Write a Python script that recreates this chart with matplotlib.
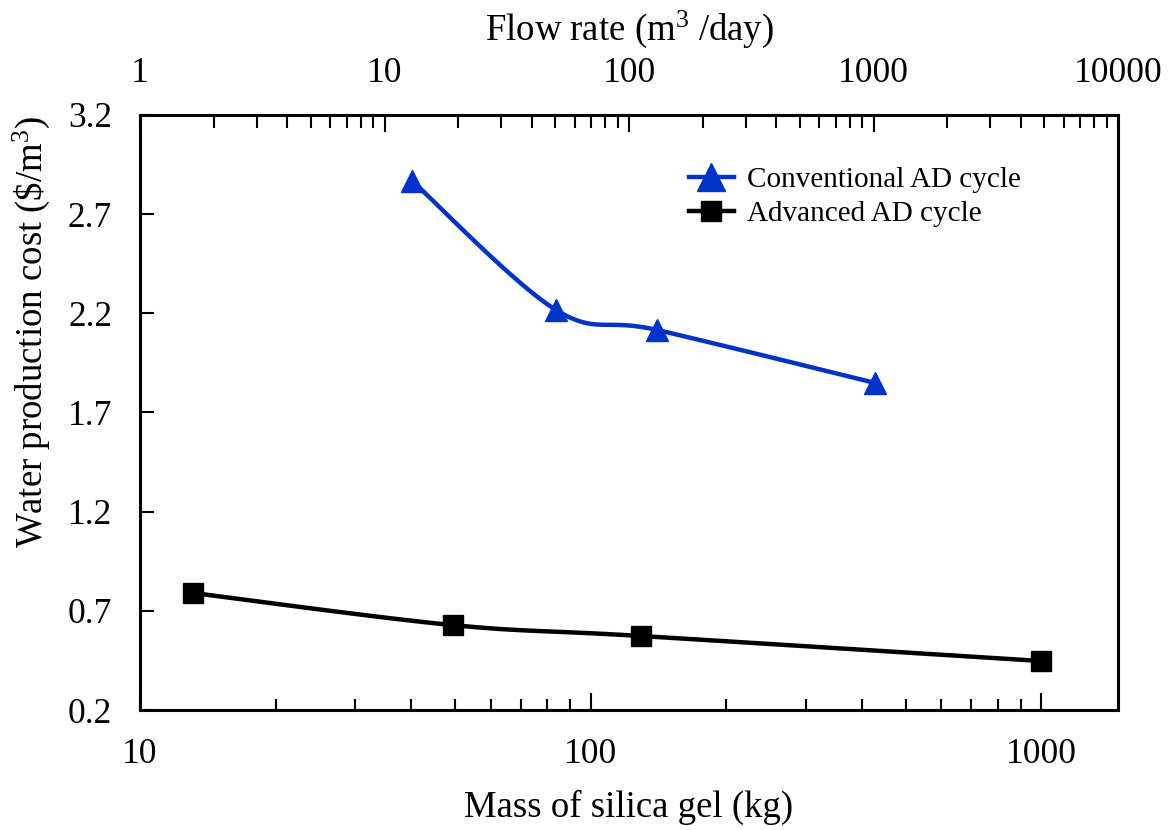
import numpy as np
import matplotlib
matplotlib.use("Agg")
import matplotlib.pyplot as plt

plt.rcParams['font.family'] = ['Liberation Serif', 'DejaVu Serif']
plt.rcParams['mathtext.fontset'] = 'custom'
plt.rcParams['mathtext.rm'] = 'Liberation Serif'
plt.rcParams['mathtext.it'] = 'Liberation Serif:italic'

# data
conv_mass = [40.2, 83.8, 140.5, 428.0]
conv_cost = [2.867, 2.217, 2.116, 1.849]
adv_mass = [13.1, 49.5, 129.4, 1000.0]
adv_cost = [0.790, 0.628, 0.573, 0.447]

y_ticks = [0.2, 0.7, 1.2, 1.7, 2.2, 2.7, 3.2]
mass_ticks = [10, 100, 1000]
flow_ticks = [1, 10, 100, 1000, 10000]


def smooth(xs, ys, xscale=450.5, yscale=198.3, n=40):
    """Excel-like smoothed line through the points (log x)."""
    px = np.log10(xs) * xscale
    py = np.asarray(ys) * yscale
    pts = np.column_stack([px, py])
    pts = np.vstack([pts[0], pts, pts[-1]])
    out = []
    t = np.linspace(0, 1, n)[:, None]
    for i in range(1, len(pts) - 2):
        p0, p1, p2, p3 = pts[i - 1], pts[i], pts[i + 1], pts[i + 2]
        c1 = p1 + (p2 - p0) / 6.0
        c2 = p2 - (p3 - p1) / 6.0
        seg = ((1 - t) ** 3) * p1 + 3 * ((1 - t) ** 2) * t * c1 + 3 * (1 - t) * t ** 2 * c2 + t ** 3 * p2
        out.append(seg)
    out = np.vstack(out)
    return 10 ** (out[:, 0] / xscale), out[:, 1] / yscale


fig = plt.figure(figsize=(11.75, 8.3), dpi=100)
ax = fig.add_axes([140 / 1175, 1 - 710 / 830, 978 / 1175, 595 / 830])

blue = '#0033CC'
sx, sy = smooth(conv_mass, conv_cost)
ax.plot(sx, sy, color=blue, lw=3.2)
ax.plot(conv_mass, conv_cost, ls='none', marker='^', ms=16, color=blue)
sx, sy = smooth(adv_mass, adv_cost)
ax.plot(sx, sy, color='black', lw=3.2)
ax.plot(adv_mass, adv_cost, ls='none', marker='s', ms=14, color='black')

# legend proxies (legend markers are a bit bigger in the original)
ax.plot([], [], color=blue, lw=3.2, marker='^', ms=20, label='Conventional AD cycle')
ax.plot([], [], color='black', lw=3.2, marker='s', ms=15, label='Advanced AD cycle')
ax.legend(loc='upper left', bbox_to_anchor=(0.561, 0.913), frameon=False,
          fontsize=21, handlelength=1.55, handletextpad=0.45, labelspacing=0.25,
          borderpad=0, borderaxespad=0)

ax.set_xscale('log')
ax.set_xlim(10, 1480)
ax.set_ylim(0.2, 3.2)
ax.set_yticks(y_ticks)
ax.set_yticklabels([f'{v:.1f}' for v in y_ticks])
ax.set_xticks(mass_ticks)
ax.set_xticklabels([str(v) for v in mass_ticks])
ax.tick_params(axis='y', which='major', direction='in', length=10, width=1.5,
               labelsize=25.5, pad=20)
ax.tick_params(axis='x', which='major', direction='in', length=12, width=1.5,
               labelsize=25.5, pad=20)
ax.tick_params(axis='x', which='minor', direction='in', length=8, width=1.5)
ax.tick_params(axis='y', which='minor', left=False)
ax.set_xlabel('Mass of silica gel (kg)', fontsize=26.5, labelpad=14)
ax.set_ylabel('Water production cost (\\$/m$^3$)', fontsize=26.5)
ax.yaxis.set_label_coords(-0.09, 0.635)
for s in ax.spines.values():
    s.set_linewidth(2.2)

top = ax.twiny()
top.set_xscale('log')
top.set_xlim(1, 10000)
top.set_xticks(flow_ticks)
top.set_xticklabels([str(v) for v in flow_ticks])
top.tick_params(axis='x', which='major', direction='in', length=12, width=1.5,
                labelsize=25.5, pad=18)
top.tick_params(axis='x', which='minor', direction='in', length=9, width=1.5)
top.set_xlabel('Flow rate (m$^3$ /day)', fontsize=26.5, labelpad=12)

fig.savefig('out.png', dpi=100)
